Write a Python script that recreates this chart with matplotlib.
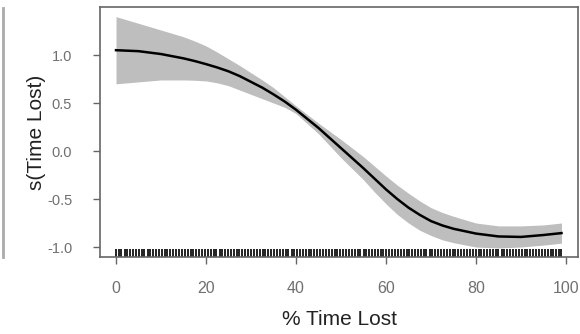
import matplotlib
matplotlib.use("Agg")
from matplotlib import pyplot as plt
from matplotlib.lines import Line2D

# smooth term
time_lost = [0, 5, 10, 15, 17.5, 20, 22.5, 25, 27.5, 30, 32.5, 35, 37.5, 40, 45, 50, 55, 57.5,
             60, 62.5, 65, 67.5, 70, 72.5, 75, 80, 85, 90, 95, 99]
fit = [1.05, 1.04, 1.01, 0.965, 0.937, 0.905, 0.87, 0.83, 0.78, 0.72, 0.66, 0.59, 0.515, 0.43,
       0.24, 0.03, -0.18, -0.29, -0.40, -0.50, -0.59, -0.665, -0.73, -0.775, -0.81, -0.86,
       -0.89, -0.895, -0.875, -0.855]
upper = [1.40, 1.33, 1.26, 1.19, 1.145, 1.095, 1.03, 0.96, 0.89, 0.815, 0.74, 0.66, 0.565, 0.47,
         0.29, 0.12, -0.06, -0.16, -0.26, -0.355, -0.44, -0.52, -0.59, -0.64, -0.68, -0.75,
         -0.78, -0.78, -0.77, -0.75]
lower = [0.70, 0.72, 0.74, 0.74, 0.737, 0.73, 0.71, 0.68, 0.635, 0.59, 0.545, 0.50, 0.455, 0.39,
         0.18, -0.07, -0.30, -0.43, -0.55, -0.66, -0.75, -0.825, -0.88, -0.925, -0.955, -1.00,
         -1.01, -1.00, -0.98, -0.96]

# observed values (rug)
rug = [0, 0.6, 1.2, 1.9, 2.5, 3.1, 3.8, 4.4, 5, 5.7, 6.3, 7, 7.6, 8.2, 8.9, 9.5, 10.2, 10.8,
       11.4, 12.1, 12.7, 13.4, 14, 14.6, 15.3, 15.9, 16.6, 17.2, 17.8, 18.5, 19.1, 19.8, 20.4,
       21, 21.7, 22.3, 23, 23.6, 24.2, 24.9, 25.5, 26.2, 26.8, 27.4, 28.1, 28.7, 29.4, 30,
       30.6, 31.3, 31.9, 32.6, 33.2, 33.8, 34.5, 35.1, 35.8, 36.4, 37, 37.7, 38.3, 39, 39.6,
       40.2, 40.9, 41.5, 42.2, 42.8, 43.4, 44.1, 44.7, 45.4, 46, 46.6, 47.3, 47.9, 48.6, 49.2,
       49.8, 50.5, 51.1, 51.8, 52.4, 53, 53.7, 54.3, 55, 55.6, 56.2, 56.9, 57.5, 58.2, 58.8,
       59.4, 60.1, 60.7, 61.4, 62, 62.6, 63.3, 63.9, 64.6, 65.2, 65.8, 66.5, 67.1, 67.8, 68.4,
       69, 69.7, 70.3, 71, 71.6, 72.2, 72.9, 73.5, 74.2, 74.8, 75.4, 76.1, 76.7, 77.4, 78,
       78.6, 79.3, 79.9, 80.6, 81.2, 81.8, 82.5, 83.1, 83.8, 84.4, 85, 85.7, 86.3, 87, 87.6,
       88.2, 88.9, 89.5, 90.2, 90.8, 91.4, 92.1, 92.7, 93.4, 94, 94.6, 95.3, 95.9, 96.6, 97.2,
       97.8, 98.5, 99]

xticks = [0, 20, 40, 60, 80, 100]
yticks = [-1.0, -0.5, 0.0, 0.5, 1.0]

plt.rcParams["font.family"] = ["Liberation Sans", "DejaVu Sans"]

fig = plt.figure(figsize=(5.8, 3.34), dpi=100)
ax = fig.add_axes([100 / 580, 77 / 334, 478 / 580, 250 / 334])

ax.fill_between(time_lost, lower, upper, color="#bebebe", lw=0)
ax.plot(time_lost, fit, color="black", lw=1.8)
ax.vlines(rug, -1.104, -1.104 + 0.08, color="#111111", lw=1.3)

ax.set_xlim(-3.56, 102.67)
ax.set_ylim(-1.104, 1.5)
ax.set_xticks(xticks)
ax.set_xticklabels([str(v) for v in xticks])
ax.set_yticks(yticks)
ax.set_yticklabels(["%.1f" % v for v in yticks])

for s in ax.spines.values():
    s.set_color("#666666")
    s.set_linewidth(1.2)

ax.tick_params(axis="x", direction="out", length=5, width=1, color="#666666",
               labelcolor="#707070", labelsize=11.5, pad=12)
ax.tick_params(axis="y", direction="out", length=5, width=1, color="#666666",
               labelcolor="#707070", labelsize=10.5, pad=15)

ax.set_xlabel("% Time Lost", fontsize=15, color="#222222")
ax.set_ylabel("s(Time Lost)", fontsize=15, color="#222222")
ax.xaxis.set_label_coords(0.5, -0.212)
ax.yaxis.set_label_coords(-0.113, 0.5)

# edge of the neighbouring panel
fig.add_artist(Line2D([3 / 580, 3 / 580], [77 / 334, 326 / 334], color="#aaaaaa", lw=2))

fig.savefig("out.png", dpi=100)
